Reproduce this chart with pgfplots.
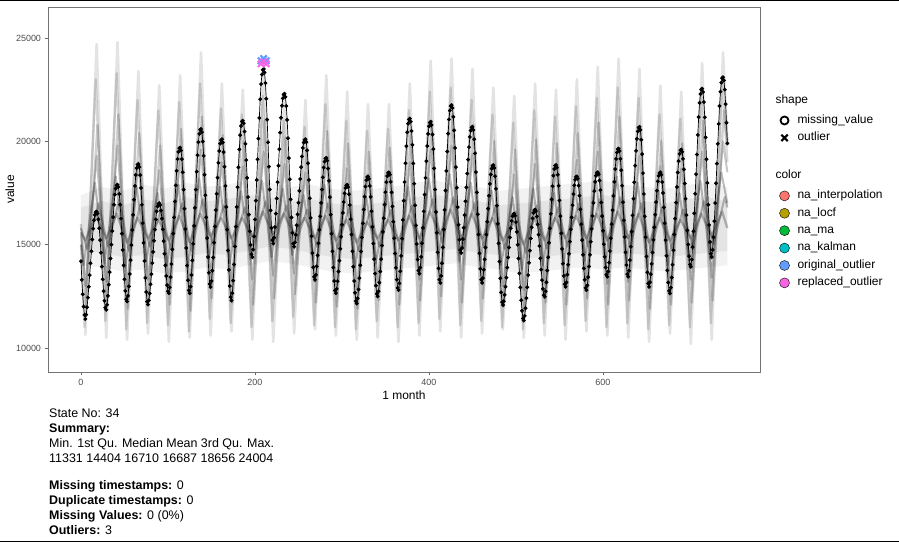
\documentclass[border=0pt]{standalone}
\usepackage{fontspec}
\setmainfont{Liberation Sans}
\usepackage{pgfplots}
\pgfplotsset{compat=1.18}
\definecolor{cInterp}{HTML}{F8766D}
\definecolor{cLocf}{HTML}{B79F00}
\definecolor{cMa}{HTML}{00BA38}
\definecolor{cKalman}{HTML}{00BFC4}
\definecolor{cOrig}{HTML}{619CFF}
\definecolor{cRepl}{HTML}{F564E3}
\begin{document}
\begin{tikzpicture}[x=1bp,y=1bp]
\path[use as bounding box] (0,0) rectangle (899,542);
\draw[black, line width=1.5bp] (0,541.3) -- (899,541.3);
\draw[black, line width=1.5bp] (0,0.7) -- (899,0.7);
\begin{axis}[
  scale only axis, width=712bp, height=365bp,
  at={(48bp,170bp)}, anchor=south west,
  xmin=-37.9, xmax=780.5, ymin=8838, ymax=26500,
  xtick={0,200,400,600}, ytick={10000,15000,20000,25000},
  scaled ticks=false,
  tick pos=left, tick align=outside, major tick length=3.5bp,
  axis line style={black!55, line width=0.6bp},
  tick style={black!60, line width=0.6bp},
  /pgf/number format/assume math mode=true,
  /pgf/number format/1000 sep={},
  tick label style={font=\fontsize{9}{10}\selectfont, text=black!70},
  xlabel={1 month}, ylabel={value},
  every axis x label/.style={at={(axis description cs:0.5,-0.063)}, anchor=center, font=\fontsize{12}{14}\selectfont},
  every axis y label/.style={at={(axis description cs:-0.0534,0.5)}, rotate=90, anchor=center, font=\fontsize{12}{14}\selectfont},
  legend cell align=left,
  legend style={draw=none, fill=none, at={(1.018,0.767)}, anchor=north west,
    font=\fontsize{12}{14}\selectfont, row sep=4.9bp,
    nodes={inner sep=0bp, text height=9bp, text depth=3.5bp},
    /tikz/every odd column/.append style={column sep=8bp}},
]
% dense core of the other states
\addplot[forget plot, draw=none, fill=black, fill opacity=0.05] coordinates {
(0,17400)(24,17800)(48,17600)(72,17900)(96,17700)(120,18000)(144,17800)(168,17900)(192,18100)(216,18000)(240,17800)(264,17900)(288,17700)(312,17600)(336,17700)(360,17800)(384,18000)(408,18100)(432,17900)(456,17800)(480,17600)(504,17700)(528,17800)(552,17900)(576,18000)(600,18100)(624,17900)(648,17800)(672,17700)(696,17900)(720,18000)(743,17800)
(743,14000)(720,13900)(696,13800)(672,13700)(648,13800)(624,13900)(600,13800)(576,13900)(552,13800)(528,13700)(504,13600)(480,13800)(456,13900)(432,14100)(408,14000)(384,13900)(360,13800)(336,13700)(312,13600)(288,13700)(264,13900)(240,14100)(216,14200)(192,14000)(168,13800)(144,13900)(120,13700)(96,13600)(72,13800)(48,13700)(24,13900)(0,14000)
};
\addplot[forget plot, draw=none, fill=black, fill opacity=0.06] coordinates {
(0,16800)(24,17100)(48,16900)(72,17200)(96,17000)(120,17300)(144,17100)(168,17200)(192,17400)(216,17300)(240,17100)(264,17200)(288,17000)(312,16900)(336,17000)(360,17100)(384,17300)(408,17400)(432,17200)(456,17100)(480,16900)(504,17000)(528,17100)(552,17200)(576,17300)(600,17400)(624,17200)(648,17100)(672,17000)(696,17200)(720,17300)(743,17100)
(743,14700)(720,14600)(696,14500)(672,14400)(648,14500)(624,14600)(600,14500)(576,14600)(552,14500)(528,14400)(504,14300)(480,14500)(456,14600)(432,14800)(408,14700)(384,14600)(360,14500)(336,14400)(312,14300)(288,14400)(264,14600)(240,14800)(216,14900)(192,14700)(168,14500)(144,14600)(120,14400)(96,14300)(72,14500)(48,14400)(24,14600)(0,14700)
};
% background series (other states)
\addplot[forget plot, black, draw opacity=0.11, line width=2.6bp, line join=round] coordinates {
(5,10600)(18,24700)(29,10500)(42,24800)(53,10400)(66,23400)(77,10700)(90,22700)(101,10300)(114,23200)(125,10500)(138,24300)(149,10600)(162,22800)(173,10800)(186,22500)(197,10400)(210,23500)(221,10300)(234,22200)(245,10700)(258,22000)(269,10900)(282,23200)(293,10600)(306,22400)(317,10400)(330,21800)(341,10500)(354,21800)(365,10300)(378,22800)(389,10600)(402,23900)(413,10800)(426,24000)(437,10500)(450,23500)(461,10700)(474,22600)(485,10900)(498,22200)(509,10500)(522,22800)(533,10600)(546,22500)(557,10400)(570,23000)(581,10800)(594,23600)(605,10600)(618,24000)(629,10500)(642,23500)(653,10300)(666,22700)(677,10700)(690,22400)(701,10200)(714,23800)(725,10400)(738,24300)(743,20000)
};
\addplot[forget plot, black, draw opacity=0.15, line width=2.3bp, line join=round] coordinates {
(0,15000)(4,11000)(17,23000)(28,11300)(41,23300)(52,10900)(65,22000)(76,11200)(89,21500)(100,11100)(113,21900)(124,10800)(137,22800)(148,11400)(161,21600)(172,11200)(185,21300)(196,11000)(209,22200)(220,11300)(233,21000)(244,11500)(257,20700)(268,11100)(281,21800)(292,11000)(305,21000)(316,10900)(329,20500)(340,11300)(353,20600)(364,11000)(377,21500)(388,11200)(401,22400)(412,11400)(425,22600)(436,11100)(449,22000)(460,11300)(473,21300)(484,11000)(497,20900)(508,10900)(521,21500)(532,11200)(545,21200)(556,11100)(569,21700)(580,11300)(593,22100)(604,11000)(617,22600)(628,11200)(641,22100)(652,10900)(665,21300)(676,11100)(689,21100)(700,11000)(713,22400)(724,11200)(737,22900)(743,19000)
};
\addplot[forget plot, black, draw opacity=0.18, line width=2.3bp, line join=round] coordinates {
(0,16000)(6,12000)(19,20800)(30,12200)(43,21300)(54,11900)(67,20400)(78,12300)(91,19800)(102,12100)(115,20600)(126,11800)(139,21200)(150,12400)(163,20300)(174,12200)(187,20000)(198,12100)(211,21000)(222,12400)(235,20200)(246,12600)(259,19700)(270,12200)(283,20500)(294,12000)(307,19900)(318,11900)(331,19500)(342,12300)(355,19700)(366,12100)(379,20300)(390,12300)(403,21000)(414,12500)(427,21300)(438,12200)(451,20800)(462,12400)(475,20000)(486,12000)(499,19600)(510,11800)(523,20100)(534,12200)(547,19900)(558,12100)(571,20400)(582,12400)(595,20900)(606,12100)(619,21200)(630,12300)(643,20700)(654,11900)(667,20000)(678,12100)(691,19900)(702,12200)(715,21000)(726,12300)(739,21500)(743,20000)
};
\addplot[forget plot, black, draw opacity=0.22, line width=2bp, line join=round] coordinates {
(0,15500)(5,13000)(18,19300)(29,13200)(42,19800)(53,12900)(66,19000)(77,13300)(90,18600)(101,13100)(114,19200)(125,12900)(138,19600)(149,13400)(162,19000)(173,13200)(186,18800)(197,13300)(210,19500)(221,13500)(234,18900)(245,13600)(258,18500)(269,13200)(282,19100)(293,13000)(306,18700)(317,12900)(330,18400)(341,13200)(354,18500)(365,13100)(378,19000)(389,13300)(402,19600)(413,13500)(426,19800)(437,13300)(450,19400)(461,13300)(474,18800)(485,13000)(498,18400)(509,12800)(522,18900)(533,13100)(546,18700)(557,13100)(570,19100)(581,13300)(594,19500)(605,13100)(618,19700)(629,13200)(642,19300)(653,12900)(666,18800)(677,13100)(690,18700)(701,13300)(714,19500)(725,13400)(738,20000)(743,18500)
};
\addplot[forget plot, black, draw opacity=0.26, line width=2bp, line join=round] coordinates {
(0,15000)(3,14000)(16,18000)(27,14100)(40,18300)(51,13900)(64,17800)(75,14200)(88,17500)(99,14000)(112,17900)(123,13900)(136,18200)(147,14300)(160,17800)(171,14100)(184,17600)(195,14300)(208,18100)(219,14400)(232,17700)(243,14500)(256,17400)(267,14200)(280,17900)(291,14000)(304,17500)(315,13900)(328,17300)(339,14100)(352,17400)(363,14000)(376,17800)(387,14200)(400,18200)(411,14400)(424,18400)(435,14200)(448,18000)(459,14200)(472,17600)(483,14000)(496,17300)(507,13800)(520,17700)(531,14000)(544,17500)(555,14100)(568,17800)(579,14200)(592,18100)(603,14000)(616,18300)(627,14100)(640,18000)(651,13900)(664,17600)(675,14000)(688,17500)(699,14200)(712,18100)(723,14300)(736,18500)(743,17000)
};
\addplot[forget plot, black, draw opacity=0.26, line width=2bp, line join=round] coordinates {
(0,15800)(7,14800)(20,17000)(31,14900)(44,17200)(55,14700)(68,16900)(79,14900)(92,16700)(103,14800)(116,17000)(127,14700)(140,17200)(151,15000)(164,16900)(175,14900)(188,16800)(199,15000)(212,17100)(223,15100)(236,16900)(247,15100)(260,16700)(271,14900)(284,17000)(295,14800)(308,16800)(319,14700)(332,16600)(343,14900)(356,16700)(367,14800)(380,16900)(391,14900)(404,17200)(415,15100)(428,17300)(439,14900)(452,17000)(463,14900)(476,16800)(487,14800)(500,16600)(511,14600)(524,16900)(535,14800)(548,16800)(559,14900)(572,17000)(583,14900)(596,17200)(607,14800)(620,17300)(631,14900)(644,17000)(655,14700)(668,16800)(679,14800)(692,16700)(703,14900)(716,17100)(727,15000)(740,17300)(743,16800)
};
\addplot[forget plot, black, draw opacity=0.26, line width=2.3bp, line join=round] coordinates {
(0,15600)(5,15200)(17,16400)(29,15300)(41,16500)(53,15100)(65,16300)(77,15300)(89,16200)(101,15200)(113,16400)(125,15100)(137,16500)(149,15400)(161,16300)(173,15300)(185,16300)(197,15400)(209,16600)(221,15500)(233,16500)(245,15500)(257,16300)(269,15300)(281,16400)(293,15200)(305,16200)(317,15100)(329,16100)(341,15300)(353,16200)(365,15200)(377,16400)(389,15300)(401,16600)(413,15500)(425,16700)(437,15300)(449,16500)(461,15300)(473,16300)(485,15200)(497,16100)(509,15000)(521,16300)(533,15200)(545,16300)(557,15300)(569,16400)(581,15300)(593,16500)(605,15200)(617,16600)(629,15300)(641,16500)(653,15100)(665,16300)(677,15200)(689,16200)(701,15300)(713,16500)(725,15400)(737,16600)(743,15800)
};
% state 34
\addplot[forget plot, black, line width=0.7bp, mark=*, mark size=1.6bp] coordinates {
(0,14200)(1,13300)(2,12600)(3,12000)(4,11600)(5,11400)
(6,11610)(7,11970)(8,12440)(9,12960)(10,13530)(11,14100)(12,14680)(13,15250)(14,15770)(15,16180)(16,16440)(17,16570)(18,16600)
(19,16510)(20,16220)(21,15790)(22,15220)(23,14610)(24,13940)(25,13320)(26,12750)(27,12280)(28,11950)(29,11850)
(30,12090)(31,12520)(32,13060)(33,13670)(34,14330)(35,15000)(36,15660)(37,16330)(38,16930)(39,17420)(40,17720)(41,17870)(42,17900)
(43,17790)(44,17450)(45,16940)(46,16260)(47,15530)(48,14740)(49,14000)(50,13320)(51,12760)(52,12360)(53,12250)
(54,12520)(55,12980)(56,13580)(57,14250)(58,14980)(59,15710)(60,16440)(61,17170)(62,17840)(63,18370)(64,18700)(65,18870)(66,18900)
(67,18760)(68,18360)(69,17740)(70,16930)(71,16040)(72,15090)(73,14210)(74,13390)(75,12710)(76,12240)(77,12100)
(78,12300)(79,12640)(80,13080)(81,13570)(82,14110)(83,14650)(84,15190)(85,15730)(86,16220)(87,16610)(88,16850)(89,16980)(90,17000)
(91,16910)(92,16650)(93,16260)(94,15740)(95,15170)(96,14560)(97,14000)(98,13480)(99,13040)(100,12740)(101,12650)
(102,12930)(103,13430)(104,14060)(105,14770)(106,15540)(107,16320)(108,17090)(109,17870)(110,18570)(111,19140)(112,19490)(113,19670)(114,19700)
(115,19560)(116,19140)(117,18500)(118,17660)(119,16740)(120,15750)(121,14840)(122,13990)(123,13280)(124,12790)(125,12650)
(126,12970)(127,13530)(128,14240)(129,15040)(130,15910)(131,16780)(132,17660)(133,18530)(134,19330)(135,19960)(136,20360)(137,20560)(138,20600)
(139,20450)(140,19990)(141,19300)(142,18380)(143,17390)(144,16320)(145,15320)(146,14400)(147,13640)(148,13100)(149,12950)
(150,13240)(151,13740)(152,14380)(153,15100)(154,15880)(155,16670)(156,17460)(157,18240)(158,18960)(159,19530)(160,19890)(161,20060)(162,20100)
(163,19940)(164,19480)(165,18770)(166,17840)(167,16820)(168,15730)(169,14720)(170,13780)(171,13000)(172,12460)(173,12300)
(174,12650)(175,13260)(176,14040)(177,14910)(178,15870)(179,16820)(180,17780)(181,18740)(182,19610)(183,20300)(184,20740)(185,20960)(186,21000)
(187,20870)(188,20470)(189,19880)(190,19090)(191,18230)(192,17300)(193,16450)(194,15650)(195,14990)(196,14530)(197,14400)
(198,14760)(199,15400)(200,16220)(201,17130)(202,18130)(203,19130)(204,20130)(205,21130)(206,22040)(207,22770)(208,23230)(209,23460)(210,23500)
(211,23330)(212,22820)(213,22060)(214,21050)(215,19950)(216,18770)(217,17670)(218,16660)(219,15810)(220,15220)(221,15050)
(222,15340)(223,15850)(224,16500)(225,17230)(226,18020)(227,18820)(228,19620)(229,20420)(230,21140)(231,21720)(232,22080)(233,22260)(234,22300)
(235,22150)(236,21710)(237,21040)(238,20150)(239,19190)(240,18160)(241,17190)(242,16310)(243,15570)(244,15050)(245,14900)
(246,15110)(247,15470)(248,15940)(249,16460)(250,17030)(251,17600)(252,18180)(253,18750)(254,19270)(255,19680)(256,19940)(257,20070)(258,20100)
(259,19960)(260,19560)(261,18940)(262,18130)(263,17240)(264,16290)(265,15410)(266,14590)(267,13910)(268,13440)(269,13300)
(270,13540)(271,13950)(272,14480)(273,15070)(274,15720)(275,16370)(276,17020)(277,17670)(278,18260)(279,18730)(280,19020)(281,19170)(282,19200)
(283,19070)(284,18680)(285,18090)(286,17300)(287,16450)(288,15530)(289,14680)(290,13890)(291,13240)(292,12780)(293,12650)
(294,12860)(295,13230)(296,13700)(297,14230)(298,14800)(299,15380)(300,15960)(301,16540)(302,17060)(303,17480)(304,17740)(305,17870)(306,17900)
(307,17790)(308,17440)(309,16920)(310,16230)(311,15490)(312,14680)(313,13930)(314,13240)(315,12670)(316,12270)(317,12150)
(318,12400)(319,12830)(320,13380)(321,14000)(322,14670)(323,15350)(324,16030)(325,16700)(326,17320)(327,17810)(328,18120)(329,18270)(330,18300)
(331,18180)(332,17840)(333,17310)(334,16620)(335,15860)(336,15050)(337,14300)(338,13600)(339,13020)(340,12620)(341,12500)
(342,12740)(343,13160)(344,13700)(345,14300)(346,14960)(347,15620)(348,16280)(349,16940)(350,17540)(351,18020)(352,18320)(353,18470)(354,18500)
(355,18390)(356,18040)(357,17530)(358,16850)(359,16110)(360,15310)(361,14570)(362,13880)(363,13310)(364,12910)(365,12800)
(366,13130)(367,13710)(368,14460)(369,15290)(370,16200)(371,17120)(372,18030)(373,18940)(374,19770)(375,20440)(376,20850)(377,21060)(378,21100)
(379,20950)(380,20500)(381,19830)(382,18930)(383,17950)(384,16900)(385,15930)(386,15030)(387,14280)(388,13750)(389,13600)
(390,13890)(391,14410)(392,15070)(393,15810)(394,16610)(395,17420)(396,18230)(397,19040)(398,19770)(399,20360)(400,20730)(401,20910)(402,20950)
(403,20790)(404,20330)(405,19620)(406,18690)(407,17670)(408,16580)(409,15570)(410,14630)(411,13850)(412,13310)(413,13150)
(414,13490)(415,14100)(416,14870)(417,15730)(418,16680)(419,17620)(420,18570)(421,19510)(422,20370)(423,21060)(424,21490)(425,21710)(426,21750)
(427,21610)(428,21180)(429,20530)(430,19680)(431,18750)(432,17750)(433,16820)(434,15960)(435,15240)(436,14740)(437,14600)
(438,14840)(439,15270)(440,15820)(441,16430)(442,17100)(443,17770)(444,18440)(445,19110)(446,19720)(447,20210)(448,20520)(449,20670)(450,20700)
(451,20550)(452,20100)(453,19420)(454,18510)(455,17530)(456,16470)(457,15490)(458,14580)(459,13830)(460,13300)(461,13150)
(462,13380)(463,13780)(464,14290)(465,14860)(466,15490)(467,16110)(468,16740)(469,17370)(470,17940)(471,18390)(472,18680)(473,18820)(474,18850)
(475,18710)(476,18310)(477,17700)(478,16890)(479,16010)(480,15060)(481,14180)(482,13370)(483,12690)(484,12220)(485,12080)
(486,12260)(487,12570)(488,12960)(489,13410)(490,13890)(491,14380)(492,14860)(493,15350)(494,15790)(495,16150)(496,16370)(497,16480)(498,16500)
(499,16400)(500,16090)(501,15620)(502,15000)(503,14330)(504,13610)(505,12930)(506,12310)(507,11800)(508,11430)(509,11331)
(510,11550)(511,11920)(512,12410)(513,12940)(514,13530)(515,14120)(516,14710)(517,15300)(518,15840)(519,16270)(520,16540)(521,16670)(522,16700)
(523,16620)(524,16360)(525,15980)(526,15480)(527,14930)(528,14340)(529,13790)(530,13280)(531,12860)(532,12560)(533,12480)
(534,12740)(535,13180)(536,13750)(537,14390)(538,15090)(539,15790)(540,16490)(541,17190)(542,17830)(543,18340)(544,18660)(545,18820)(546,18850)
(547,18730)(548,18380)(549,17850)(550,17140)(551,16380)(552,15550)(553,14790)(554,14080)(555,13490)(556,13080)(557,12960)
(558,13170)(559,13550)(560,14030)(561,14560)(562,15150)(563,15740)(564,16320)(565,16910)(566,17450)(567,17870)(568,18140)(569,18270)(570,18300)
(571,18190)(572,17860)(573,17370)(574,16710)(575,15990)(576,15220)(577,14510)(578,13850)(579,13300)(580,12910)(581,12800)
(582,13030)(583,13430)(584,13940)(585,14510)(586,15140)(587,15760)(588,16390)(589,17020)(590,17590)(591,18040)(592,18330)(593,18470)(594,18500)
(595,18400)(596,18100)(597,17640)(598,17040)(599,16380)(600,15670)(601,15020)(602,14410)(603,13900)(604,13550)(605,13450)
(606,13700)(607,14130)(608,14690)(609,15310)(610,15990)(611,16670)(612,17360)(613,18040)(614,18660)(615,19150)(616,19460)(617,19620)(618,19650)
(619,19530)(620,19150)(621,18600)(622,17850)(623,17050)(624,16180)(625,15370)(626,14630)(627,14010)(628,13570)(629,13450)
(630,13740)(631,14250)(632,14900)(633,15630)(634,16420)(635,17220)(636,18020)(637,18820)(638,19540)(639,20120)(640,20480)(641,20660)(642,20700)
(643,20550)(644,20080)(645,19380)(646,18460)(647,17450)(648,16370)(649,15360)(650,14430)(651,13660)(652,13120)(653,12960)
(654,13180)(655,13570)(656,14070)(657,14620)(658,15230)(659,15840)(660,16450)(661,17060)(662,17610)(663,18060)(664,18330)(665,18470)(666,18500)
(667,18380)(668,18030)(669,17500)(670,16800)(671,16040)(672,15220)(673,14460)(674,13750)(675,13170)(676,12760)(677,12640)
(678,12920)(679,13410)(680,14030)(681,14730)(682,15490)(683,16260)(684,17030)(685,17790)(686,18490)(687,19040)(688,19390)(689,19570)(690,19600)
(691,19490)(692,19150)(693,18640)(694,17960)(695,17220)(696,16430)(697,15690)(698,15010)(699,14440)(700,14040)(701,13930)
(702,14280)(703,14880)(704,15650)(705,16520)(706,17460)(707,18410)(708,19360)(709,20310)(710,21170)(711,21860)(712,22290)(713,22510)(714,22550)
(715,22390)(716,21900)(717,21160)(718,20190)(719,19130)(720,17990)(721,16930)(722,15950)(723,15130)(724,14560)(725,14400)
(726,14750)(727,15360)(728,16140)(729,17010)(730,17970)(731,18920)(732,19880)(733,20840)(734,21710)(735,22400)(736,22840)(737,23060)(738,23100)
(739,22950)(740,22500)(741,21800)(742,20900)(743,19900)
};
% outliers
\addplot[forget plot, only marks, mark=x, mark size=4.5bp, line width=2.2bp, color=cOrig] coordinates {(207,23900)(210,24004)(213,23900)};
\addplot[forget plot, only marks, mark=x, mark size=4.5bp, line width=2.2bp, color=cRepl, opacity=0.9] coordinates {(207,23750)(210,23850)(213,23750)};
% legend
\addlegendimage{empty legend}
\addlegendentry[text depth=6.1bp]{\hspace*{-22bp}shape}
\addlegendimage{only marks, mark=o, mark size=4bp, line width=1.8bp, black}
\addlegendentry{missing\_value}
\addlegendimage{only marks, mark=x, mark size=4.5bp, line width=2bp, black}
\addlegendentry{outlier}
\addlegendimage{empty legend}
\addlegendentry[text height=7.85bp, text depth=7.85bp]{}
\addlegendimage{empty legend}
\addlegendentry[text depth=6.1bp]{\hspace*{-22bp}color}
\addlegendimage{only marks, mark=*, mark size=5bp, draw=none, fill=cInterp}
\addlegendentry{na\_interpolation}
\addlegendimage{only marks, mark=*, mark size=5bp, draw=none, fill=cLocf}
\addlegendentry{na\_locf}
\addlegendimage{only marks, mark=*, mark size=5bp, draw=none, fill=cMa}
\addlegendentry{na\_ma}
\addlegendimage{only marks, mark=*, mark size=5bp, draw=none, fill=cKalman}
\addlegendentry{na\_kalman}
\addlegendimage{only marks, mark=*, mark size=5bp, draw=none, fill=cOrig}
\addlegendentry{original\_outlier}
\addlegendimage{only marks, mark=*, mark size=5bp, draw=none, fill=cRepl}
\addlegendentry{replaced\_outlier}
\end{axis}
\begin{scope}[every node/.style={anchor=base west, inner sep=0pt, font=\fontsize{12.5}{15}\selectfont}]
\node at (49,124) {State No: 34};
\node at (49,109) {\textbf{Summary:}};
\node at (49,94) {Min. 1st Qu. Median Mean 3rd Qu. Max.};
\node at (49,79) {11331 14404 16710 16687 18656 24004};
\node at (49,52) {\textbf{Missing timestamps:} 0};
\node at (49,37) {\textbf{Duplicate timestamps:} 0};
\node at (49,22) {\textbf{Missing Values:} 0 (0\%)};
\node at (49,7) {\textbf{Outliers:} 3};
\end{scope}
\end{tikzpicture}
\end{document}
